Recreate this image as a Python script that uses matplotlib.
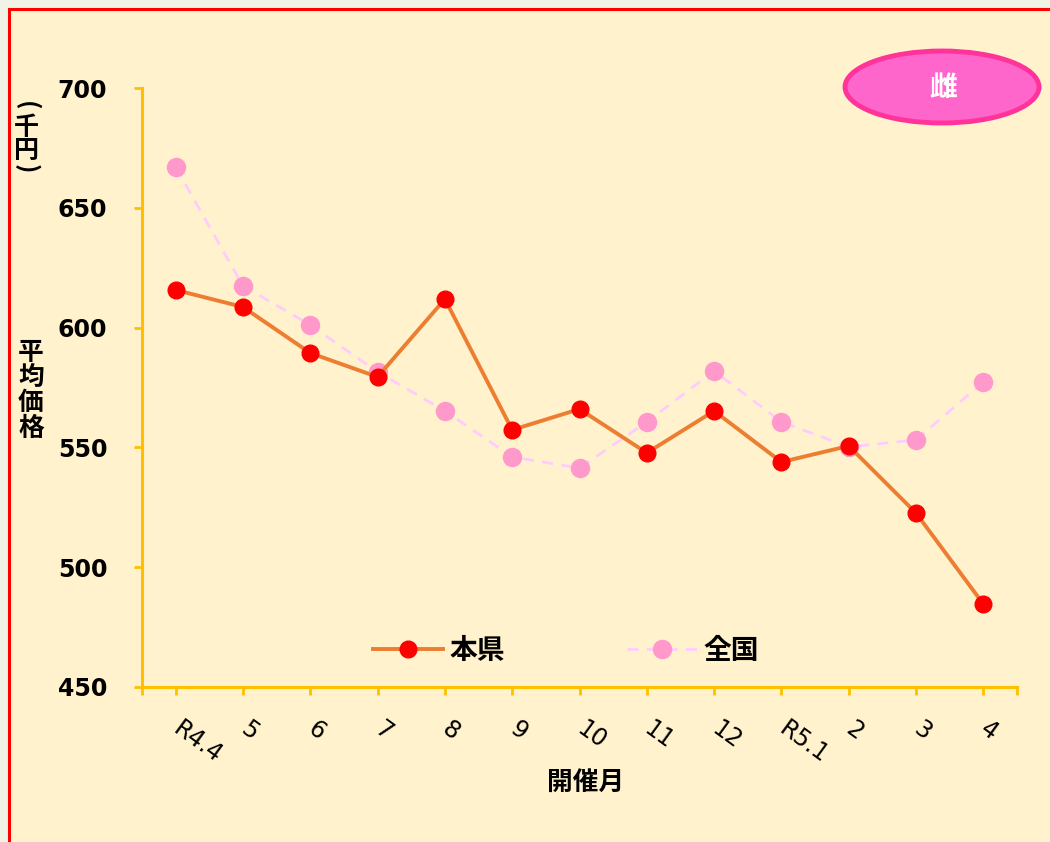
import matplotlib
matplotlib.use("Agg")
import matplotlib.pyplot as plt
from matplotlib.patches import Rectangle, Ellipse

# ── Data ──────────────────────────────────────────────────────────────────────
months = ["R4.4", "5", "6", "7", "8", "9", "10", "11", "12", "R5.1", "2", "3", "4"]
honken = [615.7, 608.6, 589.4, 579.4, 611.9, 557.3, 566.0, 547.7, 565.2, 543.9, 550.6, 522.6, 484.6]
zenkoku = [667.0, 617.4, 601.1, 581.5, 565.2, 546.0, 541.4, 560.6, 581.9, 560.6, 550.2, 553.1, 577.3]
y_ticks = [450, 500, 550, 600, 650, 700]

# ── Style ─────────────────────────────────────────────────────────────────────
OUTER = "#F0F3E6"
INNER = "#FFF2CC"
BORDER = "#FF0000"
AXIS = "#FFC000"
LINE_H = "#ED7D31"
DOT_H = "#FF0000"
LINE_Z = "#FFCCFF"
DOT_Z = "#FF99CC"

W, H = 1050, 842
plt.rcParams["font.family"] = ["Noto Sans CJK JP", "DejaVu Sans"]

fig = plt.figure(figsize=(W / 100, H / 100), dpi=100)
fig.patch.set_facecolor(OUTER)

# chart area with red frame (cropped on right / bottom)
fig.patches.append(Rectangle((8.5 / W, -0.05), 1.2, 1 - 8.5 / H + 0.05,
                             transform=fig.transFigure, facecolor=INNER,
                             edgecolor=BORDER, lw=2.2, zorder=-10))

ax = fig.add_axes([142 / W, 1 - 687 / H, 875 / W, 599 / H], zorder=2)
ax.set_facecolor("none")

x = list(range(len(months)))
ax.plot(x, zenkoku, color=LINE_Z, lw=2, ls=(0, (4, 3)), marker="o", ms=13,
        mfc=DOT_Z, mec=DOT_Z, label="全国", zorder=3)
ax.plot(x, honken, color=LINE_H, lw=2.8, marker="o", ms=12,
        mfc=DOT_H, mec=DOT_H, label="本県", zorder=4)

ax.set_xlim(-0.5, len(months) - 0.5)
ax.set_ylim(450, 700)

for s in ["top", "right"]:
    ax.spines[s].set_visible(False)
for s in ["left", "bottom"]:
    ax.spines[s].set_color(AXIS)
    ax.spines[s].set_linewidth(2.2)

ax.set_yticks(y_ticks)
ax.set_yticklabels([str(v) for v in y_ticks], fontsize=17, fontweight="bold",
                   family="DejaVu Sans")
ax.tick_params(axis="y", color=AXIS, width=2, length=6, pad=19)

ax.set_xticks(x + [-0.5, len(months) - 0.5])
ax.set_xticklabels(months + ["", ""], fontsize=17, family="DejaVu Sans",
                   rotation=-36, ha="left", va="center", rotation_mode="anchor")
ax.tick_params(axis="x", color=AXIS, width=2, length=6, pad=22)

ax.text(0.507, -0.16, "開催月", transform=ax.transAxes, ha="center", va="center",
        fontsize=18.5, fontweight="bold")


def vtext(cx, ys, chars, size, rot=None):
    # stacked vertical text, one glyph per position (pixel coords)
    for i, (yy, ch) in enumerate(zip(ys, chars)):
        r = 0 if rot is None else rot[i]
        fig.text(cx / W, 1 - yy / H, ch, ha="center", va="center",
                 fontsize=size, fontweight="bold", rotation=r)


vtext(31, [352, 377, 403, 428], "平均価格", 18.5)
vtext(26, [106, 128, 151, 169], "(千円)", 18, rot=[-90, 0, 0, -90])

# legend (本県 first)
h, l = ax.get_legend_handles_labels()
ax.legend(h[::-1], l[::-1], loc="center", bbox_to_anchor=(0.485, 0.06), ncol=2,
          frameon=False, prop={"weight": "bold", "size": 20},
          handlelength=2.5, columnspacing=4.4, handletextpad=0.25)

# badge
fig.patches.append(Ellipse((942 / W, 1 - 87 / H), 194 / W, 72 / H,
                           transform=fig.transFigure, facecolor="#FF66CC",
                           edgecolor="#FF3399", lw=3.5, zorder=5))
fig.text(943 / W, 1 - 88 / H, "雌", ha="center", va="center", color="white",
         fontsize=20, fontweight="bold", zorder=6)

fig.savefig("out.png", dpi=100, facecolor=fig.get_facecolor())
